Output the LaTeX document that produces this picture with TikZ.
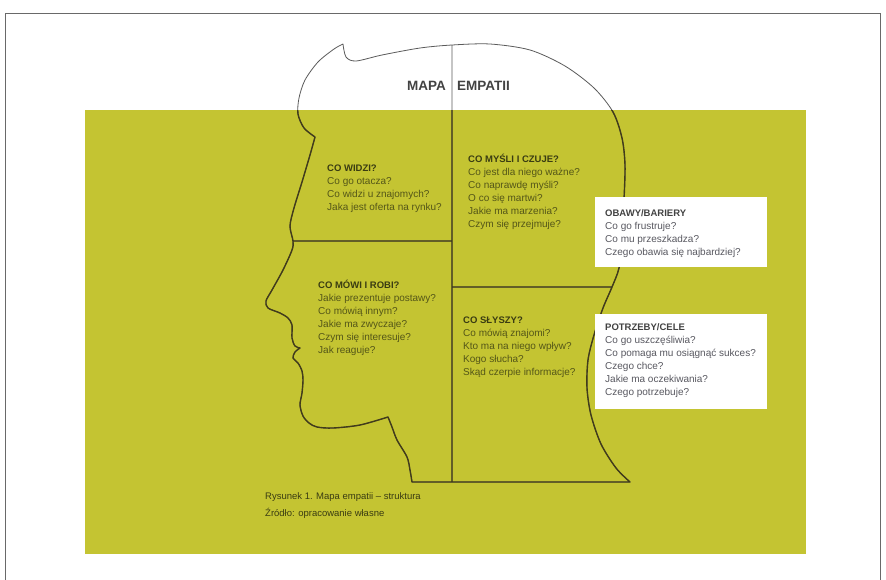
\documentclass[tikz,border=0pt]{standalone}
\usepackage{fontspec}
\setmainfont{Liberation Sans}
\usepackage{tikz}
\usetikzlibrary{positioning}

\definecolor{mapgreen}{RGB}{196,196,50}
\definecolor{headline}{RGB}{66,60,26}
\definecolor{headgray}{RGB}{90,90,90}
\definecolor{quadhead}{RGB}{58,60,18}
\definecolor{quadtext}{RGB}{84,86,24}
\definecolor{boxhead}{RGB}{66,66,66}
\definecolor{boxtext}{RGB}{88,88,96}
\definecolor{framegray}{RGB}{105,105,105}

\newcommand{\qhead}[1]{{\bfseries\fontsize{9.5}{13}\selectfont #1}}

\tikzset{
  head/.style={draw=headline, line width=1.4pt, line join=round, line cap=round},
  headtop/.style={draw=headgray, line width=0.8pt, line join=round, line cap=round},
  % base anchor sits on the last line
  quad/.style={anchor=base west, inner sep=0pt, align=left, text=quadtext,
    font=\fontsize{10}{13}\selectfont},
  boxed/.style={quad, text=boxtext},
  panel/.style={fill=white, draw=none}
}

\begin{document}
\begin{tikzpicture}[x=1pt, y=-1pt]
  \useasboundingbox (0,0) rectangle (886,579);

  % --- Definitions ---
  \coordinate (neck) at (412,482);
  \coordinate (jaw)  at (388,417);
  \coordinate (lip)  at (300,348);
  \coordinate (brow) at (315,137);
  \coordinate (tuft) at (343,44);
  \coordinate (back) at (630,482);
  \coordinate (top)  at (452,45);
  \coordinate (bot)  at (452,482);
  \coordinate (eyes) at (293,241);
  \coordinate (ears) at (612,287);
  % outline of the head with its three dividers
  \def\headpath{
    plot[smooth, tension=0.5] coordinates {(neck) (410,470) (407,457) (397,440)
      (392,427) (jaw)}
    plot[smooth, tension=0.5] coordinates {(jaw) (360,425) (333,428) (317,427)
      (309,423) (303,416) (300,405) (302,393) (303,380) (302,371) (298,363)
      (293,358) (295,352) (lip)}
    plot[smooth, tension=0.5] coordinates {(lip) (295,346) (292,338) (292,325)
      (288,318) (280,313) (268,308) (266,301) (272,290) (283,270) (292,250)
      (eyes) (290,226) (294,208) (302,182) (310,155) (brow)}
    plot[smooth, tension=0.5] coordinates {(brow) (304,128) (298,114) (299,98)
      (305,80) (318,62) (334,49) (tuft)}
    plot[smooth, tension=0.5] coordinates {(tuft) (346,57) (356,61) (382,55)
      (420,48) (top) (490,44) (530,50) (565,66) (594,88) (613,112) (622,138)
      (625,165) (624,200) (622,240) (619,268) (ears) (603,308) (594,335)
      (588,360) (587,388) (591,415) (601,444) (616,468) (back)}
    (back) -- (neck)
    (top) -- (bot)
    (eyes) -- (452,241)
    (452,287) -- (ears)}

  % --- 1. Page frame and green field ---
  \draw[framegray, line width=0.8pt] (5,590) -- (5,13) -- (880,13) -- (880,590);
  \fill[mapgreen] (85,110) rectangle (806,554);

  % --- 2. Head: thin above the field, heavy on it ---
  \draw[headtop] \headpath;
  \begin{scope}
    \clip (85,110) rectangle (806,554);
    \draw[head] \headpath;
  \end{scope}

  % --- 3. Title ---
  \node[anchor=base east, inner sep=0pt, text=boxhead, font=\bfseries\fontsize{13.5}{16}\selectfont]
    (mapa) at (446,90) {MAPA};
  \node[anchor=base west, inner sep=0pt, text=boxhead, font=\bfseries\fontsize{13.5}{16}\selectfont]
    (empatii) at (457,90) {EMPATII};

  % --- 4. Quadrants ---
  \node[quad] (sees) at (327,210.5) {\textcolor{quadhead}{\qhead{CO WIDZI?}}\\
    Co go otacza?\\ Co widzi u znajomych?\\ Jaka jest oferta na rynku?};
  \node[quad] (thinks) at (468,227.5) {\textcolor{quadhead}{\qhead{CO MYŚLI I CZUJE?}}\\
    Co jest dla niego ważne?\\ Co naprawdę myśli?\\ O co się martwi?\\
    Jakie ma marzenia?\\ Czym się przejmuje?};
  \node[quad] (says) at (318,353.5) {\textcolor{quadhead}{\qhead{CO MÓWI I ROBI?}}\\
    Jakie prezentuje postawy?\\ Co mówią innym?\\ Jakie ma zwyczaje?\\
    Czym się interesuje?\\ Jak reaguje?};
  \node[quad] (hears) at (463,375.5) {\textcolor{quadhead}{\qhead{CO SŁYSZY?}}\\
    Co mówią znajomi?\\ Kto ma na niego wpływ?\\ Kogo słucha?\\
    Skąd czerpie informacje?};

  % --- 5. Side panels ---
  \fill[panel] (595,197) rectangle (767,267);
  \fill[panel] (595,314) rectangle (767,409);
  \node[boxed] (pains) at (605,255.5) {\textcolor{boxhead}{\qhead{OBAWY/BARIERY}}\\
    Co go frustruje?\\ Co mu przeszkadza?\\ Czego obawia się najbardziej?};
  \node[boxed] (gains) at (605,395.5) {\textcolor{boxhead}{\qhead{POTRZEBY/CELE}}\\
    Co go uszczęśliwia?\\ Co pomaga mu osiągnąć sukces?\\ Czego chce?\\
    Jakie ma oczekiwania?\\ Czego potrzebuje?};

  % --- 6. Caption ---
  \node[quad, font=\fontsize{9.5}{17}\selectfont, text=quadhead] (caption) at (265,516.5)
    {Rysunek 1. Mapa empatii – struktura\\ Źródło: opracowanie własne};
\end{tikzpicture}
\end{document}
